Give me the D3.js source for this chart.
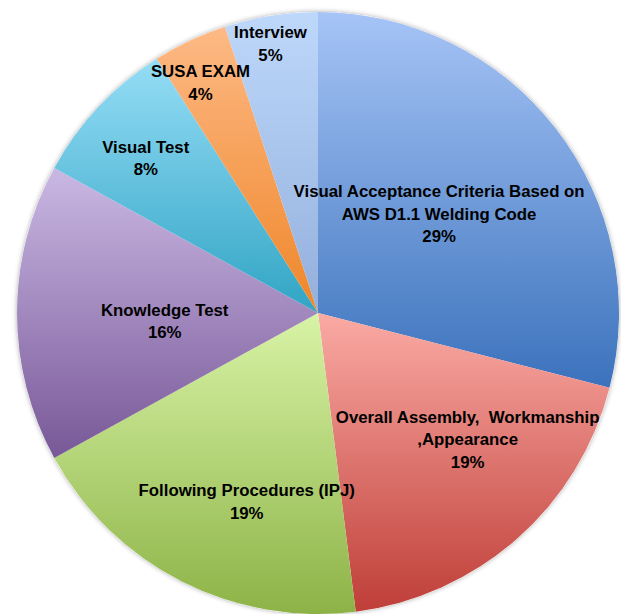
<!DOCTYPE html>
<html>
<head>
<meta charset="utf-8">
<script src="https://cdn.jsdelivr.net/npm/d3@7"></script>
<style>
  body { margin: 0; background: #fff; }
  svg { display: block; }
  text { font-family: "Liberation Sans", Arial, sans-serif; font-weight: bold; font-size: 16.8px; fill: #000; white-space: pre; }
</style>
</head>
<body>
<svg id="chart"></svg>
<script>
var w = 621;
var h = 614;

// slices, clockwise from 12 o'clock
var categories = [
	["Visual Acceptance Criteria Based on", "AWS D1.1 Welding Code"],
	["Overall Assembly,  Workmanship", ",Appearance"],
	["Following Procedures (IPJ)"],
	["Knowledge Test"],
	["Visual Test"],
	["SUSA EXAM"],
	["Interview"]
];
var values = [29, 19, 19, 16, 8, 4, 5];

// gradient top / bottom colours per slice
var topColors = ["#a6c4f6", "#fbaaa4", "#d8f3a6", "#cab8e3", "#95ddf6", "#fdb985", "#bed8fb"];
var bottomColors = ["#3b72bc", "#bf3e38", "#8db347", "#785898", "#31a4c4", "#ef8629", "#93afdb"];

// label placement: fraction of radius and angle shift (degrees)
var labelRadius = [0.52, 0.65, 0.67, 0.51, 0.77, 0.86, 0.91];
var labelShift = [-1.5, -8.5, -6.3, -3, -1.2, -1.8, -1];

var cx = 318, cy = 313, r = 301;

var svg = d3.select('#chart')
	.attr('width', w)
	.attr('height', h);

var defs = svg.append('defs');

var shadow = defs.append('filter')
	.attr('id', 'shadow')
	.attr('x', '-10%').attr('y', '-10%')
	.attr('width', '120%').attr('height', '120%');
shadow.append('feDropShadow')
	.attr('dx', 0).attr('dy', 0)
	.attr('stdDeviation', 2.5)
	.attr('flood-color', '#000')
	.attr('flood-opacity', 0.35);

values.forEach(function(v, i) {
	var g = defs.append('linearGradient')
		.attr('id', 'grad' + i)
		.attr('x1', 0).attr('y1', 0)
		.attr('x2', 0).attr('y2', 1);
	g.append('stop').attr('offset', '0%').attr('stop-color', topColors[i]);
	g.append('stop').attr('offset', '100%').attr('stop-color', bottomColors[i]);
});

var pie = d3.pie().sort(null).value(function(d) { return d; });
var arcs = pie(values);

var arc = d3.arc().innerRadius(0).outerRadius(r);

var root = svg.append('g')
	.attr('transform', 'translate(' + cx + ',' + cy + ')');

root.append('circle')
	.attr('r', r)
	.attr('fill', '#fff')
	.attr('filter', 'url(#shadow)');

root.selectAll('path')
	.data(arcs)
	.join('path')
	.attr('d', arc)
	.attr('fill', function(d, i) { return 'url(#grad' + i + ')'; });

var lineH = 22.5;

var labels = root.selectAll('text')
	.data(arcs)
	.join('text')
	.attr('text-anchor', 'middle')
	.attr('transform', function(d, i) {
		var a = (d.startAngle + d.endAngle) / 2 + labelShift[i] * Math.PI / 180;
		var rr = r * labelRadius[i];
		var x = rr * Math.sin(a);
		var y = -rr * Math.cos(a);
		return 'translate(' + x + ',' + y + ')';
	});

labels.each(function(d, i) {
	var lines = categories[i].concat([values[i] + '%']);
	var t = d3.select(this);
	var y0 = -(lines.length - 1) * lineH / 2 + 6;
	lines.forEach(function(s, j) {
		t.append('tspan')
			.attr('x', 0)
			.attr('y', y0 + j * lineH)
			.text(s);
	});
});
</script>
</body>
</html>
